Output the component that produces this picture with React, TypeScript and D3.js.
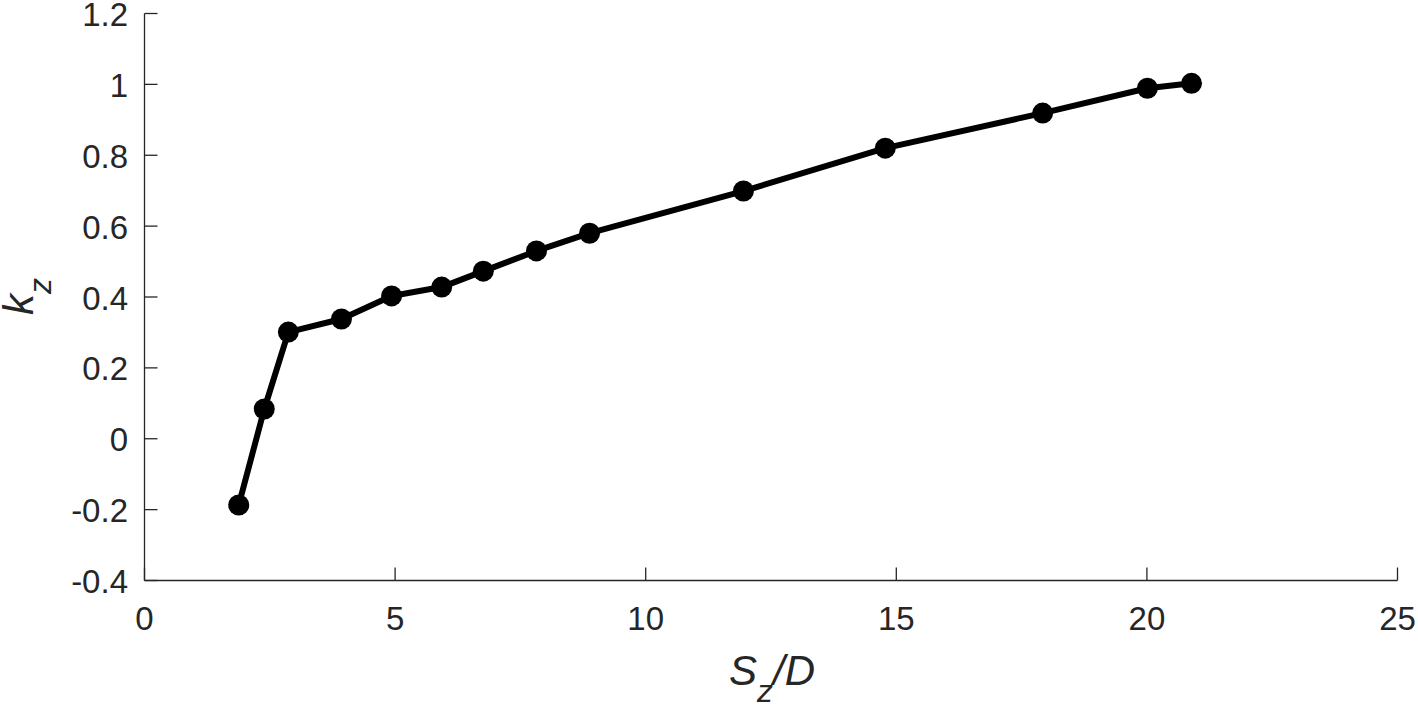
import React from "react";
import * as d3 from "d3";

const szOverD = [1.88, 2.39, 2.87, 3.93, 4.93, 5.93, 6.76, 7.82, 8.88, 11.95, 14.78, 17.92, 20.01, 20.89];
const kz = [-0.187, 0.084, 0.301, 0.338, 0.403, 0.428, 0.473, 0.53, 0.58, 0.699, 0.82, 0.919, 0.989, 1.003];
const xTicks = [0, 5, 10, 15, 20, 25];
const yTicks = [-0.4, -0.2, 0, 0.2, 0.4, 0.6, 0.8, 1, 1.2];

export default function App() {
  const W = 1418, H = 706;
  const left = 144.5, right = 1397.5, top = 13.5, bottom = 580.5;
  const x = d3.scaleLinear().domain([0, 25]).range([left, right]);
  const y = d3.scaleLinear().domain([-0.4, 1.2]).range([bottom, top]);
  const pts = szOverD.map((v, i) => [v, kz[i]] as [number, number]);
  const line = d3.line<[number, number]>().x(d => x(d[0])).y(d => y(d[1]));
  const axisColor = "#262626";
  const font = "'Liberation Sans', Arial, sans-serif";
  const fmt = (v: number) => String(Math.round(v * 10) / 10);
  return (
    <svg width={W} height={H} style={{ position: "absolute", left: 0, top: 0, background: "#fff" }} fontFamily={font}>
      <line x1={left} y1={top} x2={left} y2={bottom} stroke={axisColor} strokeWidth={1.3} />
      <line x1={left} y1={bottom} x2={right} y2={bottom} stroke={axisColor} strokeWidth={1.3} />
      {yTicks.map(t => (
        <g key={"y" + t}>
          <line x1={left} x2={left + 13} y1={y(t)} y2={y(t)} stroke={axisColor} strokeWidth={1.3} />
          <text x={128} y={y(t) + 12.5} textAnchor="end" fontSize={33} fill={axisColor}>{fmt(t)}</text>
        </g>
      ))}
      {xTicks.map(t => (
        <g key={"x" + t}>
          <line x1={x(t)} x2={x(t)} y1={bottom} y2={bottom - 13} stroke={axisColor} strokeWidth={1.3} />
          <text x={x(t)} y={630} textAnchor="middle" fontSize={33} fill={axisColor}>{fmt(t)}</text>
        </g>
      ))}
      <text x={729} y={685} fontSize={42} fontStyle="italic" fill={axisColor}>
        <tspan>S</tspan>
        <tspan fontSize={32} dy={17}>z</tspan>
        <tspan dy={-17}>/D</tspan>
      </text>
      <text transform="translate(33,315) rotate(-90)" fontSize={42} fontStyle="italic" fill={axisColor}>
        <tspan>k</tspan>
        <tspan fontSize={32} dy={18}>z</tspan>
      </text>
      <path d={line(pts) || ""} fill="none" stroke="#000" strokeWidth={6} strokeLinejoin="round" />
      {pts.map((p, i) => (
        <circle key={i} cx={x(p[0])} cy={y(p[1])} r={10.5} fill="#000" />
      ))}
    </svg>
  );
}
